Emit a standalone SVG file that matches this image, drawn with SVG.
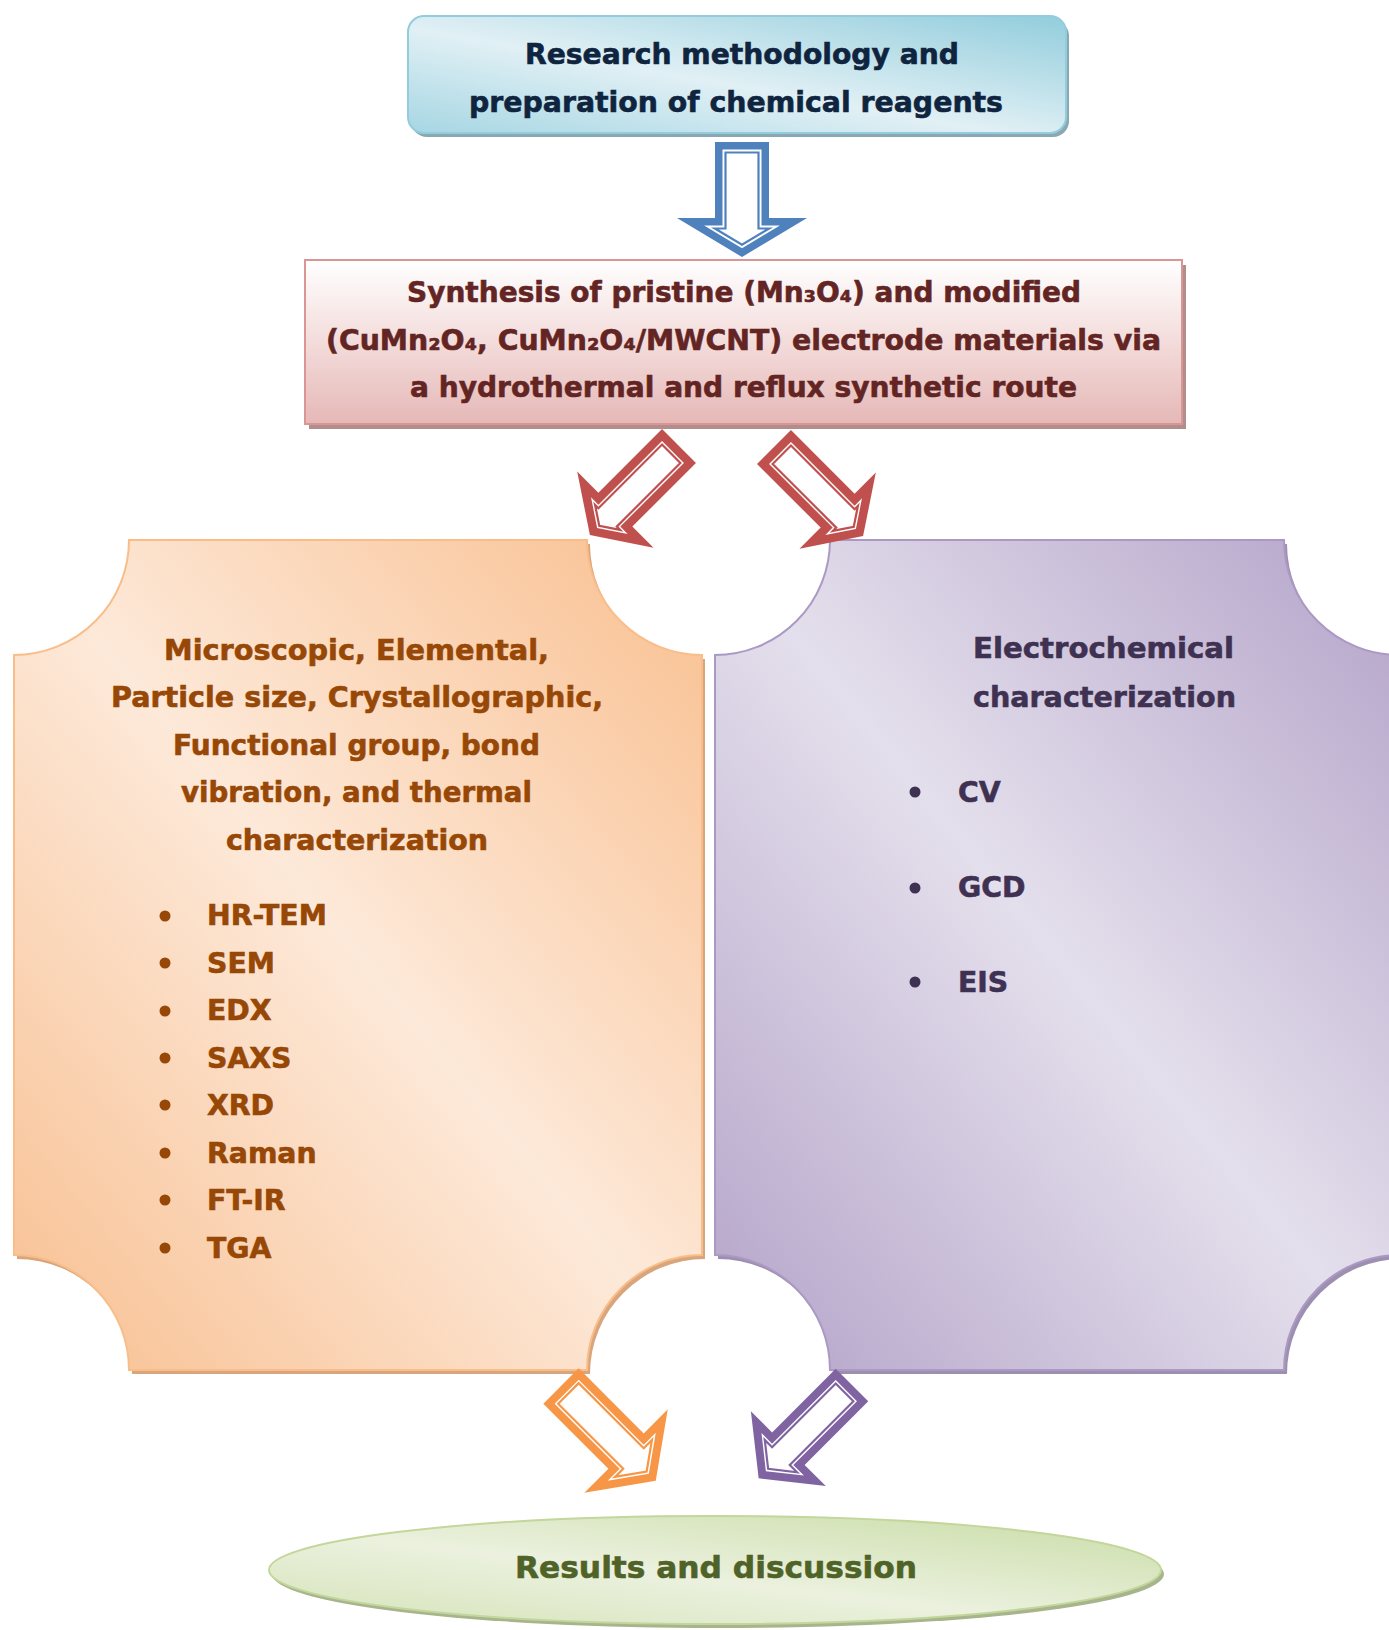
<svg xmlns="http://www.w3.org/2000/svg" width="1389" height="1630" viewBox="0 0 1389 1630">
<defs>
<style>
.t{font-family:"DejaVu Sans","Liberation Sans",sans-serif;font-weight:bold;font-size:28.3px;stroke-width:0.6px}
.navy{fill:#0f243e;stroke:#0f243e}.maroon{fill:#632523;stroke:#632523}.brown{fill:#974706;stroke:#974706}.plum{fill:#3f3151;stroke:#3f3151}.olive{fill:#4f6228;stroke:#4f6228}
.band{fill:currentColor}
.gap{fill:#ffffff}
.thin{fill:none;stroke:currentColor;stroke-width:2.2}
</style>
<linearGradient id="gBlue" x1="0" y1="1" x2="1" y2="0">
<stop offset="0" stop-color="#a6d6e3"/><stop offset="0.45" stop-color="#e1f0f5"/><stop offset="1" stop-color="#92cddc"/>
</linearGradient>
<linearGradient id="gRed" x1="0" y1="0" x2="0" y2="1">
<stop offset="0" stop-color="#ffffff"/><stop offset="0.5" stop-color="#f3dcdb"/><stop offset="1" stop-color="#e5b8b7"/>
</linearGradient>
<linearGradient id="gOrange" x1="0" y1="1" x2="1" y2="0">
<stop offset="0" stop-color="#f8bf90"/><stop offset="0.5" stop-color="#fde9d9"/><stop offset="1" stop-color="#f9bf8f"/>
</linearGradient>
<linearGradient id="gPurple" x1="0" y1="1" x2="1" y2="0">
<stop offset="0" stop-color="#b3a2c8"/><stop offset="0.5" stop-color="#e4dfec"/><stop offset="1" stop-color="#b3a2c8"/>
</linearGradient>
<linearGradient id="gGreen" x1="0" y1="1" x2="1" y2="0">
<stop offset="0" stop-color="#d5e3b9"/><stop offset="0.45" stop-color="#ebf1de"/><stop offset="1" stop-color="#c9dca6"/>
</linearGradient>
<g id="arrowBlue">
<polygon class="band" points="-27,0 27,0 27,76 65,76 0,115 -65,76 -27,76"/>
<polygon class="gap" points="-19.5,7.5 19.5,7.5 19.5,83.5 37.9,83.5 0,106.3 -37.9,83.5 -19.5,83.5"/>
<polygon class="thin" points="-16.5,10.5 16.5,10.5 16.5,86.5 27.1,86.5 0,102.8 -27.1,86.5 -16.5,86.5"/>
</g>
<g id="arrowRed">
<polygon class="band" points="-24,0 24,0 24,90 54,90 0,126 -54,90 -24,90"/>
<polygon class="gap" points="-15.5,8.5 15.5,8.5 15.5,98.5 25.9,98.5 0,115.8 -25.9,98.5 -15.5,98.5"/>
<polygon class="thin" points="-13,11 13,11 13,101 17.7,101 0,112.8 -17.7,101 -13,101"/>
</g>
<g id="arrowOrange">
<polygon class="band" points="-25,0 25,0 25,92 59,92 0,134 -59,92 -25,92"/>
<polygon class="gap" points="-17,8 17,8 17,100 34,100 0,124.2 -34,100 -17,100"/>
<polygon class="thin" points="-14.5,10.5 14.5,10.5 14.5,102.5 26.1,102.5 0,121.1 -26.1,102.5 -14.5,102.5"/>
</g>
<g id="arrowPurple">
<polygon class="band" points="-23,0 23,0 23,90 53,90 0,132 -53,90 -23,90"/>
<polygon class="gap" points="-15,8 15,8 15,98 30,98 0,121.8 -30,98 -15,98"/>
<polygon class="thin" points="-12.5,10.5 12.5,10.5 12.5,100.5 22.9,100.5 0,118.6 -22.9,100.5 -12.5,100.5"/>
</g>
<path id="plaqueL" d="M129 540 H587 A115 115 0 0 0 702 655 V1255 A115 115 0 0 0 587 1370 H129 A115 115 0 0 0 14 1255 V655 A115 115 0 0 0 129 540 Z"/>
<path id="plaqueR" d="M830 540 H1284 A115 115 0 0 0 1399 655 V1255 A115 115 0 0 0 1284 1370 H830 A115 115 0 0 0 715 1255 V655 A115 115 0 0 0 830 540 Z"/>
</defs>

<rect width="1389" height="1630" fill="#ffffff"/>

<g id="node-methodology">
<rect x="411" y="20" width="658" height="117" rx="16" fill="#8aa8b1"/>
<rect x="408" y="16" width="658" height="117" rx="16" fill="url(#gBlue)" stroke="#93cddd" stroke-width="2"/>
<text class="t navy" x="525" y="64" textLength="434" lengthAdjust="spacingAndGlyphs">Research methodology and</text>
<text class="t navy" x="469" y="112" textLength="534" lengthAdjust="spacingAndGlyphs">preparation of chemical reagents</text>
</g>

<g id="node-synthesis">
<rect x="309" y="265" width="877" height="164" fill="#b18d8c"/>
<rect x="305" y="260" width="877" height="164" fill="url(#gRed)" stroke="#d99694" stroke-width="2"/>
<text class="t maroon" x="407" y="302" textLength="674" lengthAdjust="spacingAndGlyphs">Synthesis of pristine (Mn₃O₄) and modified</text>
<text class="t maroon" x="326" y="350" textLength="835" lengthAdjust="spacingAndGlyphs">(CuMn₂O₄, CuMn₂O₄/MWCNT) electrode materials via</text>
<text class="t maroon" x="410" y="397" textLength="667" lengthAdjust="spacingAndGlyphs">a hydrothermal and reflux synthetic route</text>
</g>

<g id="node-microscopic">
<use href="#plaqueL" transform="translate(3,4)" fill="#d9a57c"/>
<use href="#plaqueL" fill="url(#gOrange)" stroke="#f9bd8a" stroke-width="2"/>
<text class="t brown" x="164" y="660" textLength="385" lengthAdjust="spacingAndGlyphs">Microscopic, Elemental,</text>
<text class="t brown" x="111" y="707" textLength="492" lengthAdjust="spacingAndGlyphs">Particle size, Crystallographic,</text>
<text class="t brown" x="173" y="755" textLength="367" lengthAdjust="spacingAndGlyphs">Functional group, bond</text>
<text class="t brown" x="181" y="802" textLength="351" lengthAdjust="spacingAndGlyphs">vibration, and thermal</text>
<text class="t brown" x="226" y="850" textLength="262" lengthAdjust="spacingAndGlyphs">characterization</text>
<g fill="#974706">
<circle cx="165" cy="916" r="5.5"/><circle cx="165" cy="963" r="5.5"/><circle cx="165" cy="1011" r="5.5"/><circle cx="165" cy="1058" r="5.5"/>
<circle cx="165" cy="1105" r="5.5"/><circle cx="165" cy="1153" r="5.5"/><circle cx="165" cy="1200" r="5.5"/><circle cx="165" cy="1248" r="5.5"/>
</g>
<text class="t brown" x="207" y="925">HR-TEM</text>
<text class="t brown" x="207" y="973">SEM</text>
<text class="t brown" x="207" y="1020">EDX</text>
<text class="t brown" x="207" y="1068">SAXS</text>
<text class="t brown" x="207" y="1115">XRD</text>
<text class="t brown" x="207" y="1163">Raman</text>
<text class="t brown" x="207" y="1210">FT-IR</text>
<text class="t brown" x="207" y="1258">TGA</text>
</g>

<g id="node-electrochemical">
<use href="#plaqueR" transform="translate(3,4)" fill="#9d8fb0"/>
<use href="#plaqueR" fill="url(#gPurple)" stroke="#ab99c4" stroke-width="2"/>
<text class="t plum" x="973" y="658" textLength="261" lengthAdjust="spacingAndGlyphs">Electrochemical</text>
<text class="t plum" x="973" y="707" textLength="263" lengthAdjust="spacingAndGlyphs">characterization</text>
<g fill="#3f3151">
<circle cx="915" cy="792" r="5.5"/><circle cx="915" cy="888" r="5.5"/><circle cx="915" cy="982" r="5.5"/>
</g>
<text class="t plum" x="958" y="802">CV</text>
<text class="t plum" x="958" y="897">GCD</text>
<text class="t plum" x="958" y="992">EIS</text>
</g>

<g id="node-results">
<ellipse cx="718" cy="1574" rx="446" ry="54" fill="#a7b48c"/>
<ellipse cx="715" cy="1570" rx="446" ry="54" fill="url(#gGreen)" stroke="#c3d69b" stroke-width="2"/>
<text class="t olive" x="515" y="1578" textLength="402" lengthAdjust="spacingAndGlyphs" style="font-size:31px">Results and discussion</text>
</g>

<g id="connectors">
<use href="#arrowBlue" transform="translate(742,142)" style="color:#4f81bd"/>
<use href="#arrowRed" transform="translate(679,446) rotate(45)" style="color:#c0504d"/>
<use href="#arrowRed" transform="translate(774,447) rotate(-45)" style="color:#c0504d"/>
<use href="#arrowOrange" transform="translate(561,1386) rotate(-45)" style="color:#f79646"/>
<use href="#arrowPurple" transform="translate(852,1385) rotate(45)" style="color:#8064a2"/>
</g>
</svg>
